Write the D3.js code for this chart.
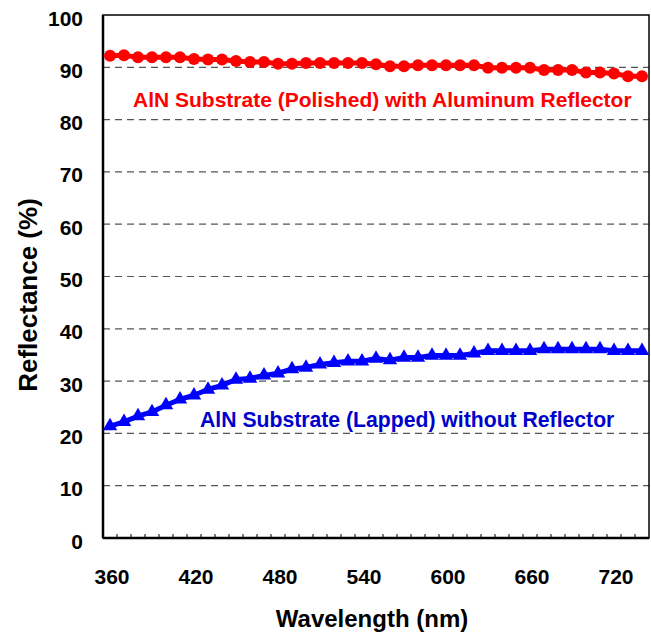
<!DOCTYPE html>
<html>
<head>
<meta charset="utf-8">
<script src="https://cdn.jsdelivr.net/npm/d3@7"></script>
<style>
  html, body { margin: 0; padding: 0; background: #fff; }
  svg { display: block; }
  text { font-family: "Liberation Sans", Arial, sans-serif; font-weight: bold; }
</style>
</head>
<body>
<script>
// ---- data ----
const wavelengths = [350,360,370,380,390,400,410,420,430,440,450,460,470,480,490,500,510,520,530,540,550,560,570,580,590,600,610,620,630,640,650,660,670,680,690,700,710,720,730];
const polishedWithReflector = [92.2,92.3,91.9,91.9,91.9,91.9,91.6,91.5,91.5,91.2,91.0,91.0,90.7,90.7,90.8,90.8,90.8,90.8,90.8,90.6,90.2,90.2,90.4,90.4,90.4,90.4,90.4,89.9,89.9,89.9,89.9,89.5,89.5,89.5,89.0,89.0,88.8,88.3,88.3];
const lappedWithoutReflector = [21.4,22.2,23.3,24.1,25.4,26.5,27.3,28.4,29.2,30.3,30.5,31.1,31.5,32.3,32.6,33.2,33.5,33.8,33.8,34.3,34.0,34.5,34.5,34.9,34.9,34.9,35.3,35.8,35.8,35.8,35.8,36.1,36.1,36.1,36.1,36.1,35.8,35.8,35.8];
const xTickLabels = [360,420,480,540,600,660,720];
const yTickLabels = [0,10,20,30,40,50,60,70,80,90,100];
const minorTicks = d3.range(355, 735, 10);
const seriesLabels = ["AlN Substrate (Polished) with Aluminum Reflector", "AlN Substrate (Lapped) without Reflector"];

// ---- layout ----
const W = 651, H = 633;
const mLeft = 103, mRight = 649, mTop = 15, mBottom = 538;

const svg = d3.select("body").append("svg").attr("width", W).attr("height", H);

const x = d3.scaleLinear().domain([345, 735]).range([mLeft, mRight]);
const y = d3.scaleLinear().domain([0, 100]).range([mBottom, mTop]);

// gridlines
svg.append("g").selectAll("line")
  .data(yTickLabels.filter(v => v > 0 && v < 100))
  .join("line")
  .attr("x1", mLeft).attr("x2", mRight)
  .attr("y1", d => y(d)).attr("y2", d => y(d))
  .attr("stroke", "#555").attr("stroke-width", 1.2)
  .attr("stroke-dasharray", "7,5");

// frame
svg.append("rect").attr("x", mLeft).attr("y", mTop)
  .attr("width", mRight - mLeft).attr("height", mBottom - mTop)
  .attr("fill", "none").attr("stroke", "#000").attr("stroke-width", 1.5);
svg.append("line").attr("x1", mLeft).attr("x2", mRight).attr("y1", mBottom).attr("y2", mBottom)
  .attr("stroke", "#000").attr("stroke-width", 2.5);
svg.append("line").attr("x1", mLeft).attr("x2", mLeft).attr("y1", mTop).attr("y2", mBottom)
  .attr("stroke", "#000").attr("stroke-width", 2.5);

// minor ticks on x axis (inside)
svg.append("g").selectAll("line")
  .data(minorTicks).join("line")
  .attr("x1", d => x(d)).attr("x2", d => x(d))
  .attr("y1", mBottom).attr("y2", mBottom - 4)
  .attr("stroke", "#000").attr("stroke-width", 1);

// y tick labels
svg.append("g").selectAll("text")
  .data(yTickLabels).join("text")
  .attr("x", 83).attr("y", d => y(d) + 3)
  .attr("text-anchor", "end").attr("dominant-baseline", "central")
  .attr("font-size", 21).text(d => d);

// x tick labels
svg.append("g").selectAll("text")
  .data(xTickLabels).join("text")
  .attr("x", d => x(d)).attr("dx", -12).attr("y", 584)
  .attr("text-anchor", "middle")
  .attr("font-size", 21).text(d => d);

// axis titles
svg.append("text").attr("x", 372).attr("y", 627)
  .attr("text-anchor", "middle").attr("font-size", 24).text("Wavelength (nm)");
svg.append("text").attr("transform", "translate(37,295) rotate(-90)")
  .attr("text-anchor", "middle").attr("font-size", 26).text("Reflectance (%)");

// series
const line = d3.line().x((d, i) => x(wavelengths[i])).y(d => y(d));

svg.append("path").datum(polishedWithReflector)
  .attr("d", line).attr("fill", "none").attr("stroke", "#FF0000").attr("stroke-width", 5);
svg.append("g").selectAll("circle")
  .data(polishedWithReflector).join("circle")
  .attr("cx", (d, i) => x(wavelengths[i])).attr("cy", d => y(d))
  .attr("r", 6).attr("fill", "#FF0000");

svg.append("path").datum(lappedWithoutReflector)
  .attr("d", line).attr("fill", "none").attr("stroke", "#0000FF").attr("stroke-width", 5);
const tri = d3.symbol().type(d3.symbolTriangle).size(90);
svg.append("g").selectAll("path")
  .data(lappedWithoutReflector).join("path")
  .attr("d", tri)
  .attr("transform", (d, i) => `translate(${x(wavelengths[i])},${y(d)})`)
  .attr("fill", "#0000FF");

// series labels
svg.append("text").attr("x", 133).attr("y", 107)
  .attr("font-size", 21).attr("fill", "#FF0000").text(seriesLabels[0]);
svg.append("text").attr("x", 200).attr("y", 427)
  .attr("font-size", 21.2).attr("fill", "#0000CC").text(seriesLabels[1]);
</script>
</body>
</html>
